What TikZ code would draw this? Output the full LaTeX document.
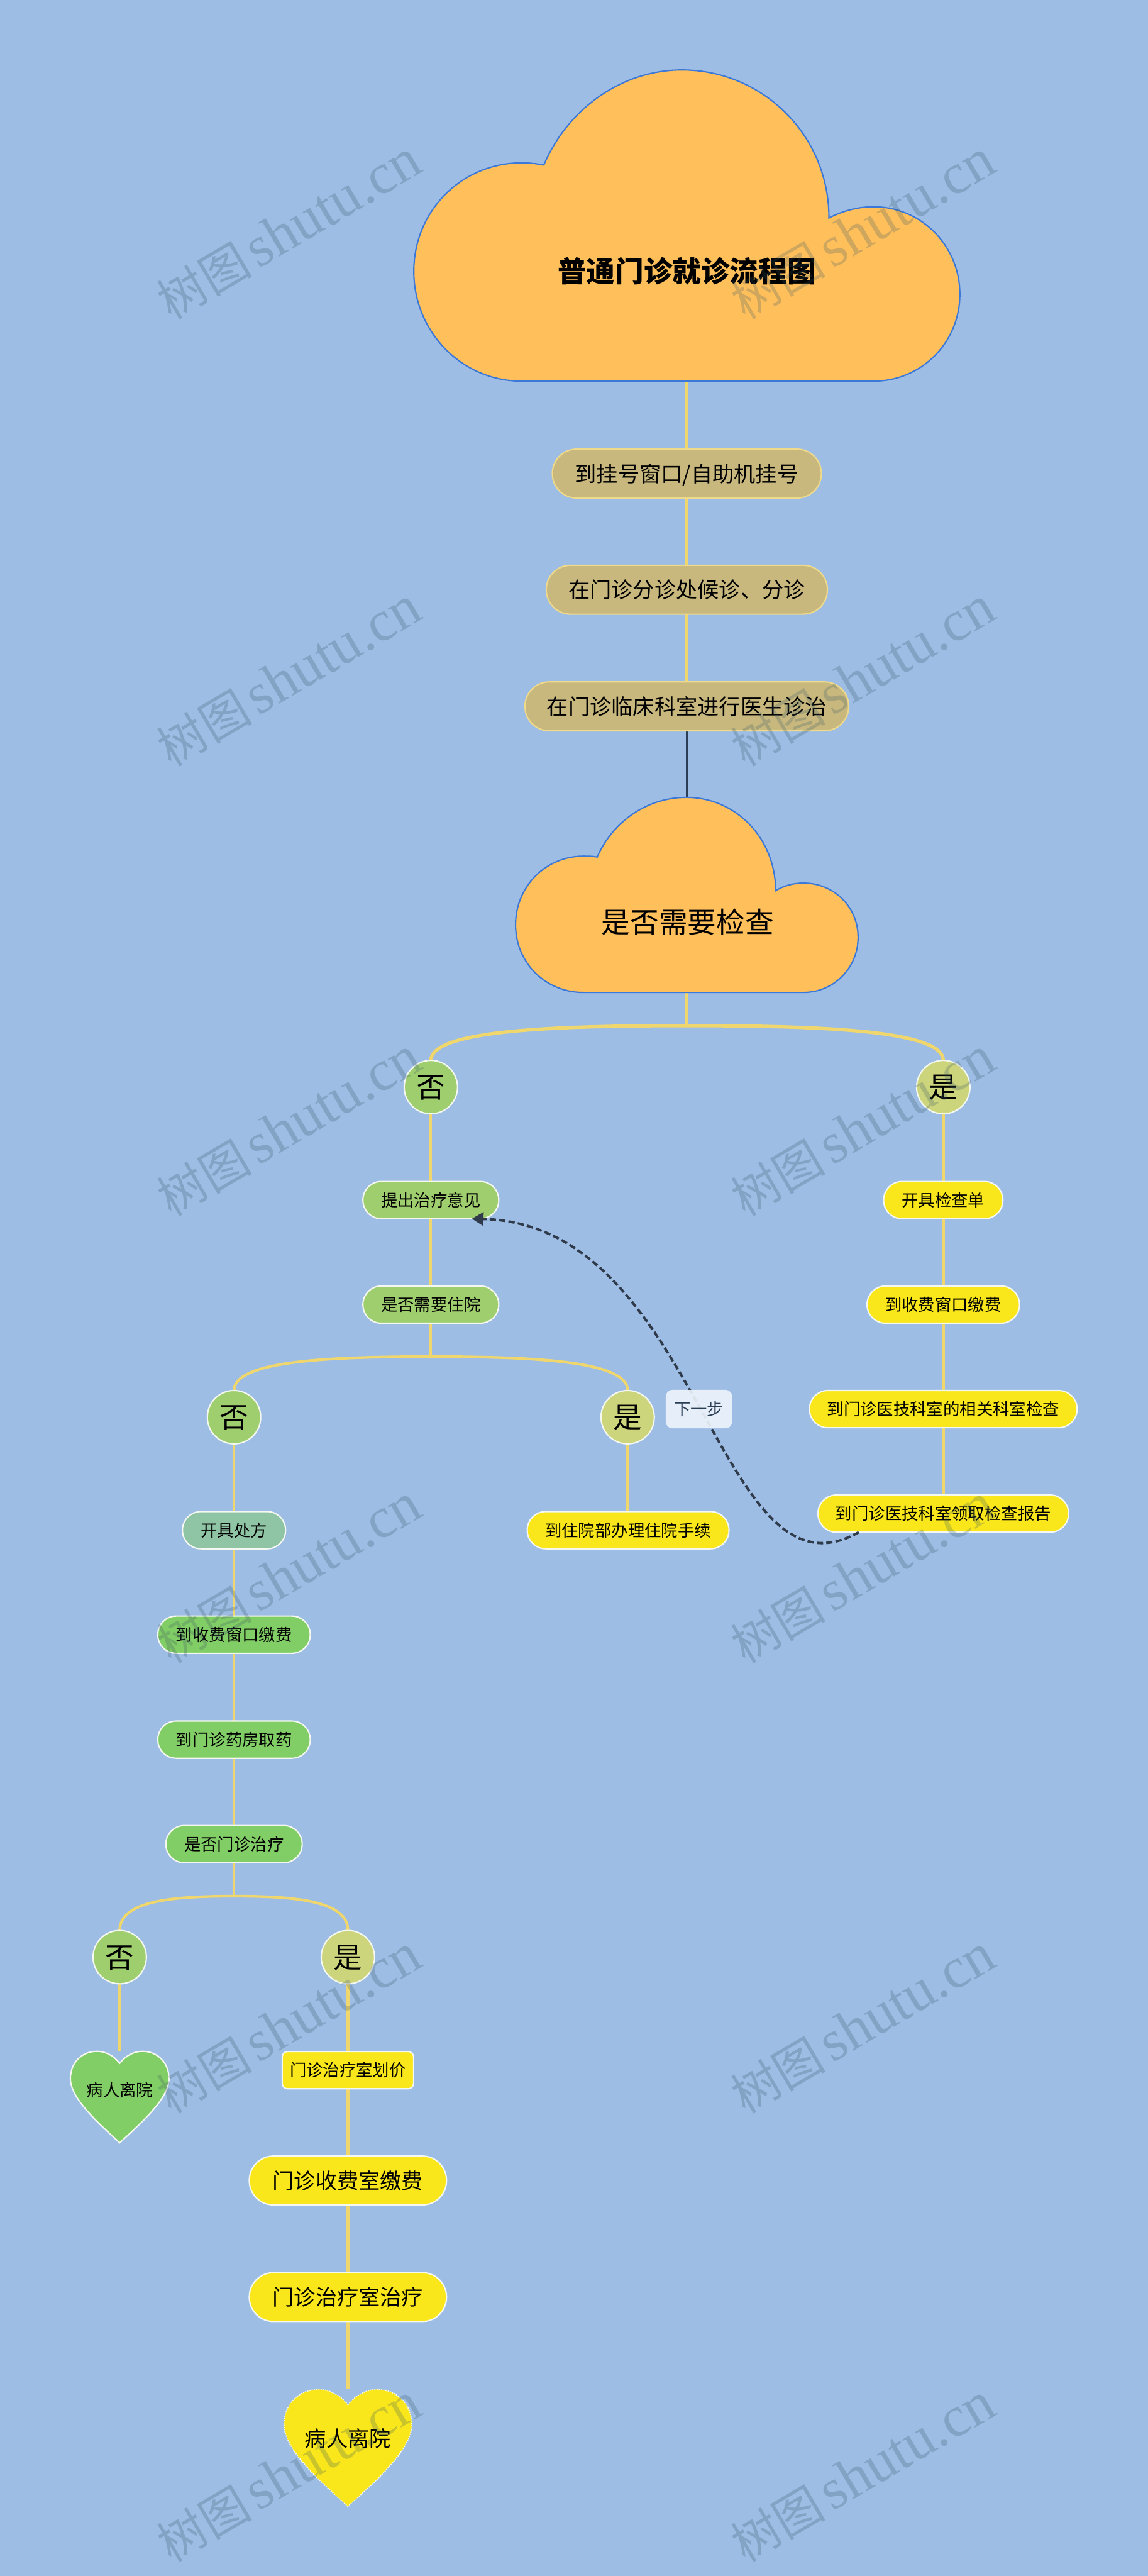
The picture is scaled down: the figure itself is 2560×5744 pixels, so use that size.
\documentclass[tikz,border=0pt]{standalone}
\usepackage{fontspec}
\setmainfont{Noto Sans CJK SC}
\newfontfamily\wmlatin{Liberation Serif}
\usetikzlibrary{arrows.meta,backgrounds}
\definecolor{pagebg}{HTML}{9DBDE5}
\definecolor{cloudfill}{HTML}{FFC05C}
\definecolor{cloudline}{HTML}{3C78D8}
\definecolor{tanfill}{HTML}{CBB878}
\definecolor{tanline}{HTML}{EFD98A}
\definecolor{linkcol}{HTML}{EFD76E}
\definecolor{greenA}{HTML}{9FCE6F}
\definecolor{yesA}{HTML}{CCD47C}
\definecolor{greenB}{HTML}{82CE66}
\definecolor{tealA}{HTML}{8FC5A4}
\definecolor{yellowA}{HTML}{F9E71C}
\definecolor{darkline}{HTML}{2B3E55}
\definecolor{darkdash}{HTML}{2F3A4A}
\definecolor{wmcol}{HTML}{345463}
\definecolor{notefill}{HTML}{EFF5FC}
\definecolor{softwhite}{HTML}{F4F8F0}
\tikzset{
  fsA/.style={font=\fontsize{37}{44}\selectfont,text height=32.6pt,text depth=4.4pt},
  fsB/.style={font=\fontsize{48}{58}\selectfont,text height=42.2pt,text depth=5.8pt},
  fsC/.style={font=\fontsize{64}{76}\selectfont,text height=56.3pt,text depth=7.7pt},
  fsT/.style={font=\fontsize{64}{76}\selectfont\bfseries,text height=56.3pt,text depth=7.7pt},
  basenode/.style={rectangle,inner sep=0pt,outer sep=0pt,text=black,anchor=center},
  pillsmall/.style={basenode,fsA,rounded corners=41pt,minimum height=83pt,line width=3pt,draw=softwhite},
  pillbig/.style={basenode,fsB,rounded corners=54pt,minimum height=109pt,line width=3pt},
  tanpill/.style={pillbig,draw=tanline,fill=tanfill,fill opacity=.94,text opacity=1},
  yellowbig/.style={pillbig,draw=softwhite,fill=yellowA},
  greenpillA/.style={pillsmall,fill=greenA},
  greenpillB/.style={pillsmall,fill=greenB},
  tealpill/.style={pillsmall,fill=tealA},
  yellowpill/.style={pillsmall,fill=yellowA},
  flatbox/.style={basenode,fsA,rounded corners=12pt,minimum height=83pt,line width=3pt,draw=softwhite,fill=yellowA},
  roundno/.style={circle,inner sep=0pt,outer sep=0pt,minimum size=119pt,fsC,line width=3pt,draw=softwhite,fill=greenA},
  roundyes/.style={roundno,fill=yesA},
  notebox/.style={basenode,fsA,text=darkline,rounded corners=15pt,minimum width=148pt,minimum height=86pt,fill=notefill,fill opacity=.9,text opacity=1},
  boundsbox/.style={rectangle,inner sep=0pt,outer sep=0pt},
  cloudshape/.style={line width=3pt,draw=cloudline,fill=cloudfill,line join=miter},
  link/.style={line width=6pt,draw=linkcol},
  thicklink/.style={line width=7.5pt,draw=linkcol},
  darklink/.style={line width=5pt,draw=darkline},
  dashlink/.style={line width=5.5pt,draw=darkdash,dash pattern=on 14pt off 7pt,-{Triangle[length=26pt,width=30pt]}},
  wmtext/.style={font=\fontsize{106}{130}\selectfont,text=wmcol,text opacity=.24,rotate=30.5,inner sep=0pt,anchor=center},
}
\newcommand{\heartoutline}{(0,.13) .. controls (.06,.05) and (.14,0) .. (.23,0) .. controls (.39,0) and (.5,.13) .. (.5,.30) .. controls (.5,.52) and (.2,.80) .. (0,1) .. controls (-.2,.80) and (-.5,.52) .. (-.5,.30) .. controls (-.5,.13) and (-.39,0) .. (-.23,0) .. controls (-.14,0) and (-.06,.05) .. (0,.13) -- cycle}
\newcommand{\wmstring}{树图\kern14pt{\wmlatin\fontsize{128}{150}\selectfont shutu.cn}}
\begin{document}
\begin{tikzpicture}[x=1pt,y=-1pt]
\useasboundingbox (0,0) rectangle (2560,5744);
\begin{scope}[on background layer]
\fill[pagebg] (0,0) rectangle (2560,5744);
\end{scope}
% clouds
\path[cloudshape] (1164,850) .. controls (1030,850) and (923,740) .. (923,605) .. controls (923,470) and (1030,363) .. (1164,363) .. controls (1182,363) and (1197,365) .. (1213,368) .. controls (1265,245) and (1385,156) .. (1521,156) .. controls (1700,156) and (1849,300) .. (1849,486) .. controls (1880,470) and (1915,461) .. (1948,461) .. controls (2055,461) and (2141,548) .. (2141,656) .. controls (2141,764) and (2055,850) .. (1948,850) -- cycle;
\node[boundsbox,minimum width=1218pt,minimum height=694pt] (cloudA) at (1532,503) {};
\node[basenode,fsT] (titleA) at (1532,605) {普通门诊就诊流程图};
\path[cloudshape] (1301,2213) .. controls (1218,2213) and (1150,2148) .. (1150,2062) .. controls (1150,1976) and (1218,1909) .. (1301,1909) .. controls (1312,1909) and (1322,1909) .. (1332,1911) .. controls (1368,1830) and (1445,1778) .. (1531,1778) .. controls (1642,1778) and (1730,1870) .. (1730,1986) .. controls (1748,1975) and (1770,1969) .. (1792,1969) .. controls (1860,1969) and (1914,2022) .. (1914,2090) .. controls (1914,2158) and (1860,2213) .. (1792,2213) -- cycle;
\node[boundsbox,minimum width=764pt,minimum height=435pt] (cloudB) at (1532,1996) {};
\node[basenode,fsC] (titleB) at (1534,2056) {是否需要检查};
% top chain
\node[tanpill,minimum width=600pt] (regist) at (1532,1056) {到挂号窗口/自助机挂号};
\node[tanpill,minimum width=627pt] (triage) at (1532,1315) {在门诊分诊处候诊、分诊};
\node[tanpill,minimum width=722pt] (doctor) at (1532,1575) {在门诊临床科室进行医生诊治};
% first branches
\node[roundno] (noA) at (961,2424) {否};
\node[roundyes] (yesA) at (2104,2424) {是};
\node[greenpillA,minimum width=303pt] (advice) at (961,2676) {提出治疗意见};
\node[greenpillA,minimum width=303pt] (inpat) at (961,2909) {是否需要住院};
\node[yellowpill,minimum width=266pt] (order) at (2104,2676) {开具检查单};
\node[yellowpill,minimum width=340pt] (payA) at (2104,2909) {到收费窗口缴费};
\node[yellowpill,minimum width=597pt] (exam) at (2104,3142) {到门诊医技科室的相关科室检查};
\node[yellowpill,minimum width=559pt] (report) at (2104,3375) {到门诊医技科室领取检查报告};
% second branches
\node[roundno] (noB) at (522,3160) {否};
\node[roundyes] (yesB) at (1400,3160) {是};
\node[yellowpill,minimum width=450pt] (admit) at (1401,3412) {到住院部办理住院手续};
\node[tealpill,minimum width=230pt] (presc) at (522,3412) {开具处方};
\node[greenpillB,minimum width=340pt] (payB) at (522,3645) {到收费窗口缴费};
\node[greenpillB,minimum width=340pt] (drug) at (522,3879) {到门诊药房取药};
\node[greenpillB,minimum width=304pt] (outpat) at (522,4112) {是否门诊治疗};
% third branches
\node[roundno] (noC) at (267,4364) {否};
\node[roundyes] (yesC) at (776,4364) {是};
\begin{scope}[shift={(267,4574)},xscale=220,yscale=204]
\path[fill=greenB,draw=softwhite,line width=3pt] \heartoutline;
\end{scope}
\node[boundsbox,minimum width=220pt,minimum height=204pt] (heartA) at (267,4676) {};
\node[basenode,fsA] (heartAtext) at (267,4661) {病人离院};
\node[flatbox,minimum width=293pt] (price) at (776,4616) {门诊治疗室划价};
\node[yellowbig,minimum width=440pt] (payC) at (776,4862) {门诊收费室缴费};
\node[yellowbig,minimum width=440pt] (treat) at (776,5122) {门诊治疗室治疗};
\begin{scope}[shift={(776,5328)},xscale=285,yscale=261]
\path[fill=yellowA,draw=softwhite,line width=2.5pt,dash pattern=on 2.5pt off 2.5pt] \heartoutline;
\end{scope}
\node[boundsbox,minimum width=285pt,minimum height=261pt] (heartB) at (776,5458) {};
\node[basenode,fsB] (heartBtext) at (776,5437) {病人离院};
% connectors
\coordinate (joinA) at (1532,2287);
\coordinate (joinB) at (961,3025);
\coordinate (joinC) at (522,4228);
\begin{scope}[on background layer]
\draw[thicklink] (cloudA.south) -- (regist.north);
\draw[link] (regist.south) -- (triage.north);
\draw[link] (triage.south) -- (doctor.north);
\draw[darklink] (doctor.south) -- (cloudB.north);
\draw[thicklink] (cloudB.south) -- (joinA);
\draw[thicklink,line cap=round] (joinA) .. controls (1218,2287) and (961,2299) .. (noA.north);
\draw[thicklink,line cap=round] (joinA) .. controls (1847,2287) and (2104,2299) .. (yesA.north);
\draw[link] (noA.south) -- (advice.north);
\draw[link] (advice.south) -- (inpat.north);
\draw[link] (inpat.south) -- (joinB);
\draw[link] (joinB) .. controls (720,3025) and (522,3036) .. (noB.north);
\draw[link] (joinB) .. controls (1202,3025) and (1400,3036) .. (yesB.north);
\draw[link] (yesB.south) -- (admit.north -| yesB.south);
\draw[link] (noB.south) -- (presc.north);
\draw[link] (presc.south) -- (payB.north);
\draw[link] (payB.south) -- (drug.north);
\draw[link] (drug.south) -- (outpat.north);
\draw[link] (outpat.south) -- (joinC);
\draw[link] (joinC) .. controls (382,4228) and (267,4239) .. (noC.north);
\draw[link] (joinC) .. controls (662,4228) and (776,4239) .. (yesC.north);
\draw[link] (noC.south) -- (heartA.north);
\draw[link] (yesC.south) -- (price.north);
\draw[link] (price.south) -- (payC.north);
\draw[link] (payC.south) -- (treat.north);
\draw[link] (treat.south) -- (heartB.north);
\draw[link] (yesA.south) -- (order.north);
\draw[link] (order.south) -- (payA.north);
\draw[link] (payA.south) -- (exam.north);
\draw[link] (exam.south) -- (report.north);
\end{scope}
\draw[dashlink] ([xshift=91pt]report.south west) .. controls (1600,3595) and (1565,2730) .. ([xshift=-60pt]advice.south east);
\node[notebox] (nextstep) at (1559,3142) {下一步};
% watermark
\foreach \wy [count=\wi] in {513,1510,2513,3510,4514,5514}{
  \node[wmtext] (wmL\wi) at (645,\wy) {\wmstring};
  \node[wmtext] (wmR\wi) at (1925,\wy) {\wmstring};
}
\end{tikzpicture}
\end{document}
